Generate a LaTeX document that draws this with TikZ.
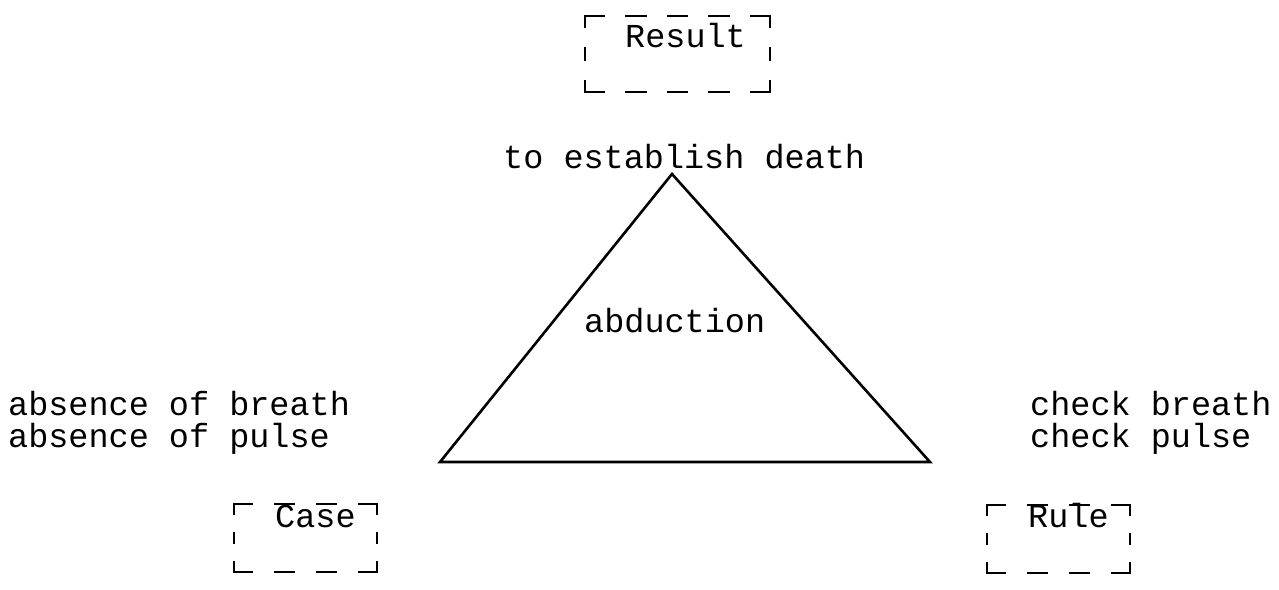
\documentclass[tikz,border=0pt]{standalone}
\usepackage{fontspec}
\setmonofont{Liberation Mono}
\begin{document}
\begin{tikzpicture}[x=1pt,y=-1pt,
  lbl/.style={font=\ttfamily\fontsize{33.5}{32}\selectfont, inner sep=0pt, anchor=base west},
  edge/.style={line width=2.6pt, line join=miter},
  frame/.style={line width=2.6pt, line cap=rect},
  wideH/.style={frame, dash pattern=on 19pt off 22.5pt},
  wideV/.style={frame, dash pattern=on 11pt off 21.5pt},
  narrowH/.style={frame, dash pattern=on 18pt off 23.67pt},
  narrowV/.style={frame, dash pattern=on 10pt off 19pt}]
\useasboundingbox (0,0) rectangle (1279,589);

% triangle of abduction
\coordinate (apex) at (672,174);
\coordinate (bl) at (440,462);
\coordinate (br) at (930,462);
\draw[edge] (apex) -- (bl) -- (br) -- cycle;

% labels
\node[lbl] (goal) at (503,168) {to establish death};
\node[lbl] (mode) at (584,332) {abduction};
\node[lbl] (case1) at (8,415) {absence of breath};
\node[lbl] (case2) at (8,447) {absence of pulse};
\node[lbl] (rule1) at (1030,415) {check breath};
\node[lbl] (rule2) at (1030,447) {check pulse};
\node[lbl] (result) at (625,47) {Result};
\node[lbl] (case) at (275,527) {Case};
\node[lbl] (rule) at (1028,527) {Rule};

% dashed frames: each side drawn from a corner so the corners stay solid
\coordinate (rA) at (585,16);  \coordinate (rB) at (770,16);
\coordinate (rC) at (770,92);  \coordinate (rD) at (585,92);
\draw[wideH] (rA) -- (rB);
\draw[wideH] (rD) -- (rC);
\draw[wideV] (rA) -- (rD);
\draw[wideV] (rB) -- (rC);

\coordinate (cA) at (234,504); \coordinate (cB) at (377,504);
\coordinate (cC) at (377,572); \coordinate (cD) at (234,572);
\draw[narrowH] (cA) -- (cB);
\draw[narrowH] (cD) -- (cC);
\draw[narrowV] (cA) -- (cD);
\draw[narrowV] (cB) -- (cC);

\coordinate (uA) at (987,505); \coordinate (uB) at (1130,505);
\coordinate (uC) at (1130,573); \coordinate (uD) at (987,573);
\draw[narrowH] (uA) -- (uB);
\draw[narrowH] (uD) -- (uC);
\draw[narrowV] (uA) -- (uD);
\draw[narrowV] (uB) -- (uC);
\end{tikzpicture}
\end{document}
